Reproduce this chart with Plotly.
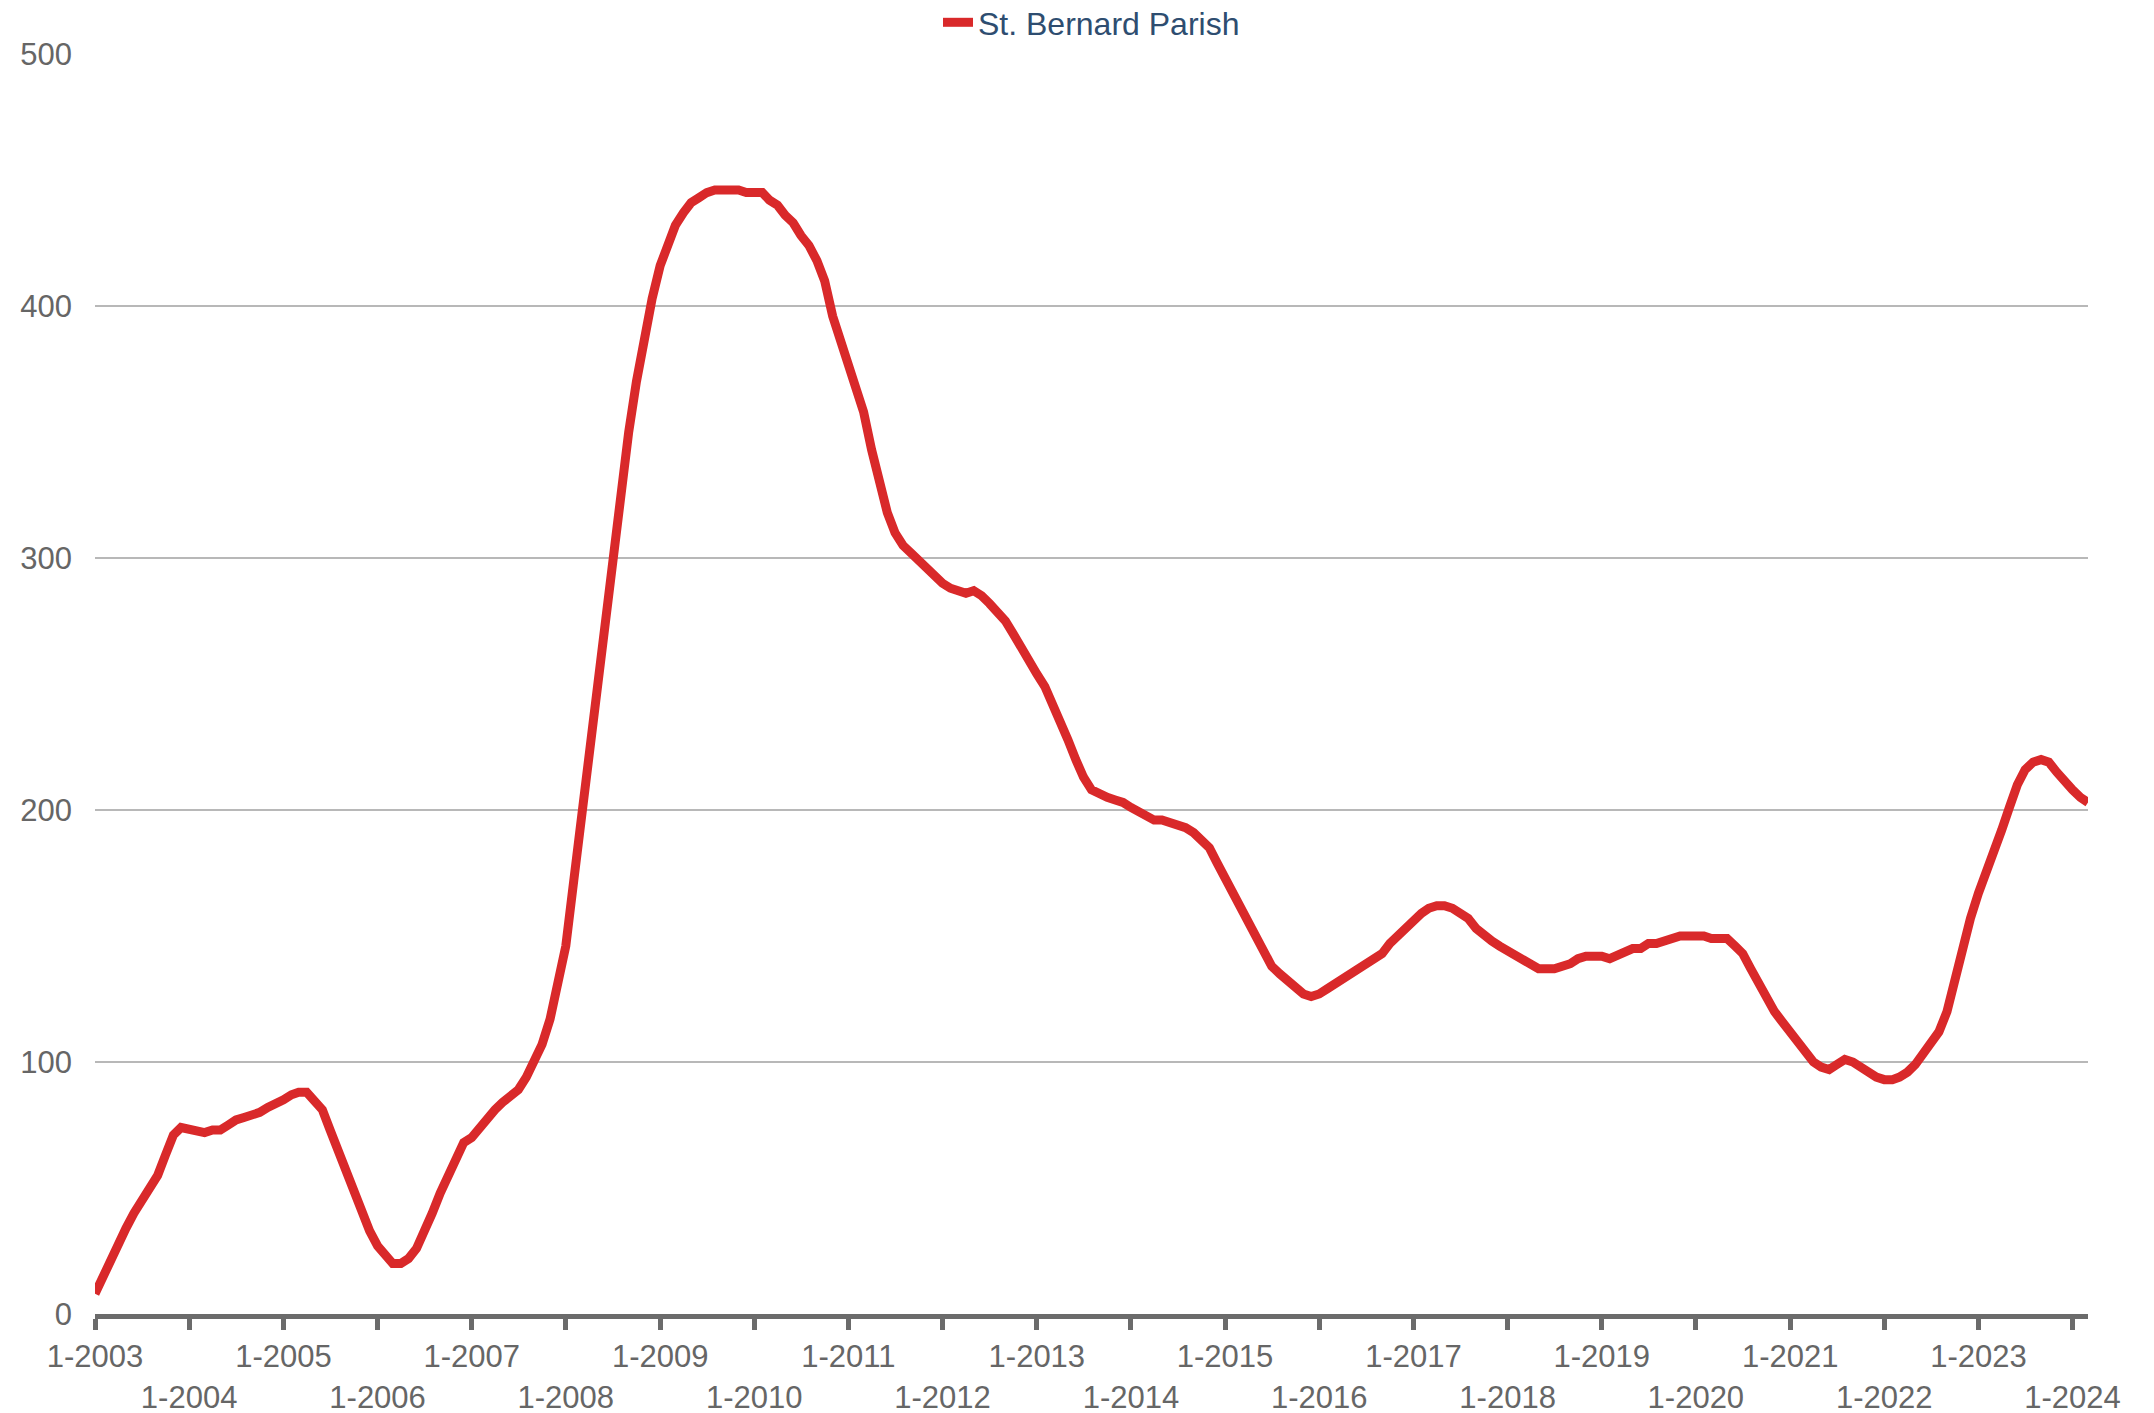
import pandas as pd
import plotly.graph_objects as go

series_name = "St. Bernard Parish"
start_month = "2003-01-01"

values = [
    # 2003
    8, 15, 22, 28, 34, 40, 45, 49, 55, 63, 71, 74,
    # 2004
    73, 72, 72, 73, 73, 75, 77, 78, 79, 80, 82, 84,
    # 2005
    85, 87, 88, 88, 85, 81, 73, 65, 57, 48, 40, 33,
    # 2006
    27, 23, 20, 20, 22, 26, 32, 40, 48, 55, 62, 68,
    # 2007
    70, 74, 77, 81, 84, 87, 89, 94, 100, 107, 117, 130,
    # 2008
    146, 172, 197, 222, 249, 275, 300, 327, 350, 370, 389, 403,
    # 2009
    416, 425, 432, 437, 441, 443, 445, 446, 446, 446, 446, 445,
    # 2010
    445, 445, 442, 440, 436, 433, 428, 424, 418, 410, 396, 387,
    # 2011
    378, 369, 358, 343, 330, 318, 310, 305, 302, 299, 297, 294,
    # 2012
    290, 288, 287, 286, 287, 285, 282, 279, 275, 270, 264, 259,
    # 2013
    254, 249, 243, 236, 228, 220, 213, 208, 206, 205, 204, 203,
    # 2014
    201, 199, 197, 196, 196, 195, 194, 193, 191, 188, 185, 179,
    # 2015
    173, 167, 161, 155, 148, 143, 138, 135, 132, 129, 127, 126,
    # 2016
    127, 129, 131, 133, 135, 137, 139, 141, 143, 147, 150, 153,
    # 2017
    157, 159, 161, 162, 162, 161, 159, 157, 153, 150, 148, 146,
    # 2018
    144, 142, 140, 138, 137, 137, 137, 138, 139, 141, 142, 142,
    # 2019
    142, 141, 142, 144, 145, 145, 147, 147, 148, 149, 150, 150,
    # 2020
    150, 150, 149, 149, 149, 146, 143, 137, 131, 125, 120, 116,
    # 2021
    112, 108, 104, 100, 98, 97, 99, 101, 100, 98, 96, 94,
    # 2022
    93, 93, 94, 96, 99, 103, 107, 112, 120, 133, 146, 157,
    # 2023
    167, 175, 184, 192, 201, 210, 216, 219, 220, 219, 215, 211,
    # 2024
    208, 205, 203,
]

dates = pd.date_range(start_month, periods=len(values), freq="MS")

tick_years = list(range(2003, 2025))
tick_vals = [f"{y}-01-01" for y in tick_years]
tick_text = [f"1-{y}" if (y - 2003) % 2 == 0 else f"<br>1-{y}" for y in tick_years]

y_ticks = [0, 100, 200, 300, 400, 500]

FONT = "Liberation Sans, Arial, sans-serif"
RED = "#d9292a"

fig = go.Figure()
fig.add_trace(go.Scatter(
    x=dates, y=values, mode="lines", name=series_name,
    line=dict(color=RED, width=9),
))

fig.update_layout(
    width=2154, height=1413,
    paper_bgcolor="white", plot_bgcolor="white",
    margin=dict(l=87, r=74, t=46, b=107, autoexpand=False),
    font=dict(family=FONT, size=31, color="#666666"),
    showlegend=True,
    legend=dict(
        orientation="h", x=0.5, xanchor="center", xref="paper",
        y=1.025, yanchor="middle", yref="paper",
        font=dict(family=FONT, size=32, color="#2e4d70"),
        bgcolor="rgba(0,0,0,0)",
    ),
)

fig.update_xaxes(
    range=[dates[0], dates[-1]],
    tickmode="array", tickvals=tick_vals, ticktext=tick_text,
    showgrid=False, zeroline=False,
    showline=True, linecolor="#6b6b6b", linewidth=5,
    ticks="outside", ticklen=11, tickwidth=5, tickcolor="#6b6b6b",
    tickangle=0, automargin=False,
    tickfont=dict(family=FONT, size=31, color="#666666"),
)
fig.update_yaxes(
    range=[0, 500], tickmode="array", tickvals=y_ticks,
    showgrid=True, gridcolor="#b8b8b8", gridwidth=2,
    zeroline=False, showline=False, ticks="",
    ticklabelstandoff=22, automargin=False,
    tickfont=dict(family=FONT, size=31, color="#666666"),
)

fig.write_html("out.html")
